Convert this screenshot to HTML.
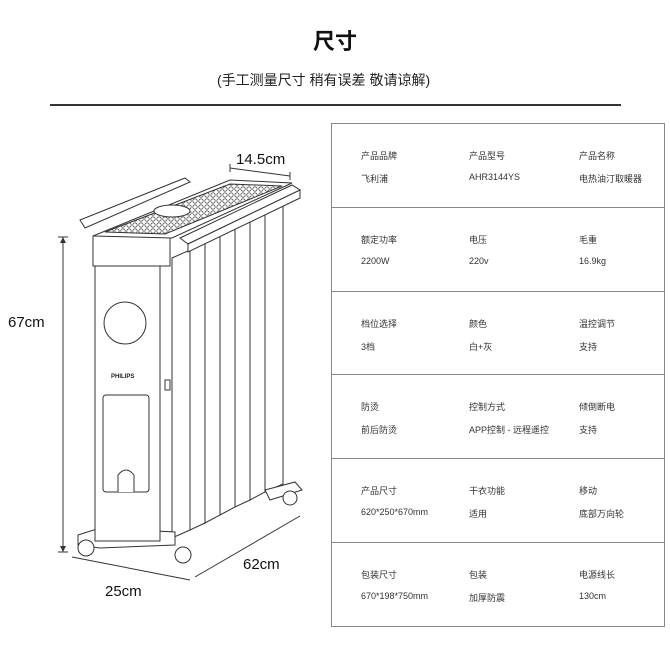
<!DOCTYPE html>
<html><head><meta charset="utf-8"><style>
body{margin:0;width:670px;height:670px;background:#fff;position:relative;overflow:hidden;font-family:"Liberation Sans","Noto Sans CJK SC",sans-serif;color:#222}
.t{position:absolute;white-space:nowrap}
.tbl{position:absolute;left:331px;top:123px;width:332px;border:1.5px solid #888}
.row{height:82.8px;border-top:1.5px solid #888;position:relative}
.row:first-child{border-top:none}
.c{position:absolute;font-size:9px;color:#333}
</style></head><body>
<div class="t" style="left:313px;top:24px;font-size:22px;font-weight:bold;color:#111">尺寸</div>
<div class="t" style="left:217px;top:70px;font-size:14px;color:#222">(手工测量尺寸 稍有误差 敬请谅解)</div>
<div style="position:absolute;left:50px;top:104px;width:571px;height:1.5px;background:#333"></div>

<div class="tbl">
<div class="row"><span class="c" style="left:29px;top:25px">产品品牌</span><span class="c" style="left:137px;top:25px">产品型号</span><span class="c" style="left:247px;top:25px">产品名称</span>
<span class="c" style="left:29px;top:48px">飞利浦</span><span class="c" style="left:137px;top:48px">AHR3144YS</span><span class="c" style="left:247px;top:48px">电热油汀取暖器</span></div>
<div class="row"><span class="c" style="left:29px;top:25px">额定功率</span><span class="c" style="left:137px;top:25px">电压</span><span class="c" style="left:247px;top:25px">毛重</span>
<span class="c" style="left:29px;top:48px">2200W</span><span class="c" style="left:137px;top:48px">220v</span><span class="c" style="left:247px;top:48px">16.9kg</span></div>
<div class="row"><span class="c" style="left:29px;top:25px">档位选择</span><span class="c" style="left:137px;top:25px">颜色</span><span class="c" style="left:247px;top:25px">温控调节</span>
<span class="c" style="left:29px;top:48px">3档</span><span class="c" style="left:137px;top:48px">白+灰</span><span class="c" style="left:247px;top:48px">支持</span></div>
<div class="row"><span class="c" style="left:29px;top:25px">防烫</span><span class="c" style="left:137px;top:25px">控制方式</span><span class="c" style="left:247px;top:25px">倾倒断电</span>
<span class="c" style="left:29px;top:48px">前后防烫</span><span class="c" style="left:137px;top:48px">APP控制 - 远程遥控</span><span class="c" style="left:247px;top:48px">支持</span></div>
<div class="row"><span class="c" style="left:29px;top:25px">产品尺寸</span><span class="c" style="left:137px;top:25px">干衣功能</span><span class="c" style="left:247px;top:25px">移动</span>
<span class="c" style="left:29px;top:48px">620*250*670mm</span><span class="c" style="left:137px;top:48px">适用</span><span class="c" style="left:247px;top:48px">底部万向轮</span></div>
<div class="row"><span class="c" style="left:29px;top:25px">包装尺寸</span><span class="c" style="left:137px;top:25px">包装</span><span class="c" style="left:247px;top:25px">电源线长</span>
<span class="c" style="left:29px;top:48px">670*198*750mm</span><span class="c" style="left:137px;top:48px">加厚防震</span><span class="c" style="left:247px;top:48px">130cm</span></div>
</div>

<svg style="position:absolute;left:0;top:0" width="330" height="670" viewBox="0 0 330 670">
<defs><pattern id="g" width="6" height="6" patternUnits="userSpaceOnUse"><circle cx="3" cy="3" r="2.2" fill="none" stroke="#555" stroke-width="0.8"/></pattern></defs>
<g fill="#fff" stroke="#333" stroke-width="1">
<path d="M172 258 L190 250 L190 530 L172 538 Z"/>
<path d="M190 250 L205 242 L205 523 L190 530 Z"/>
<path d="M205 242 L220 234 L220 515 L205 523 Z"/>
<path d="M220 234 L235 226 L235 507 L220 515 Z"/>
<path d="M235 226 L250 218 L250 500 L235 507 Z"/>
<path d="M250 218 L265 212 L265 492 L250 500 Z"/>
<path d="M265 212 L283 206 L283 484 L265 492 Z"/>
<path d="M78 535 L100 528 L175 532 L175 545 L100 548 L78 545 Z"/>
<path d="M265 490 L295 482 L302 490 L270 500 Z"/>
<circle cx="86" cy="548" r="8"/><circle cx="183" cy="555" r="8"/><circle cx="290" cy="498" r="7"/>
<rect x="95" y="254" width="65" height="287"/>
<rect x="93" y="236" width="77" height="30"/>
<path d="M80 220 L185 178 L190 182 L85 228 Z"/>
<path d="M93 236 L230 180 L292 183 L172 238 Z"/>
<path d="M105 232 L230 184 L282 186 L165 234 Z" fill="url(#g)"/>
<ellipse cx="172" cy="211" rx="18" ry="6"/>
<path d="M180 238 L292 185 L300 190 L188 244 Z"/>
<path d="M188 244 L300 190 L300 198 L188 252 Z"/>
<circle cx="125" cy="323" r="21"/>
<rect x="103" y="395" width="46" height="97" rx="3"/>
<path d="M118 492 L118 475 Q126 465 134 475 L134 492"/>
<rect x="165" y="380" width="5" height="10"/>
</g>
<text x="111" y="378" font-size="6" font-weight="bold" font-family="Liberation Sans" fill="#222">PHILIPS</text>
<g stroke="#333" stroke-width="1" fill="none">
<line x1="63" y1="237" x2="63" y2="552"/><line x1="58" y1="237" x2="68" y2="237"/><line x1="58" y1="552" x2="68" y2="552"/>
<line x1="230" y1="168" x2="290" y2="176"/><line x1="230" y1="164" x2="230" y2="172"/><line x1="290" y1="172" x2="290" y2="180"/>
<line x1="72" y1="557" x2="190" y2="580"/><line x1="195" y1="577" x2="300" y2="516"/>
</g>
<g fill="#333"><path d="M63 237 L60 243 L66 243Z"/><path d="M63 552 L60 546 L66 546Z"/></g>
<text x="236" y="164" font-size="15" font-family="Liberation Sans" fill="#111">14.5cm</text>
<text x="8" y="327" font-size="15" font-family="Liberation Sans" fill="#111">67cm</text>
<text x="105" y="596" font-size="15" font-family="Liberation Sans" fill="#111">25cm</text>
<text x="243" y="569" font-size="15" font-family="Liberation Sans" fill="#111">62cm</text>
</svg>
</body></html>
